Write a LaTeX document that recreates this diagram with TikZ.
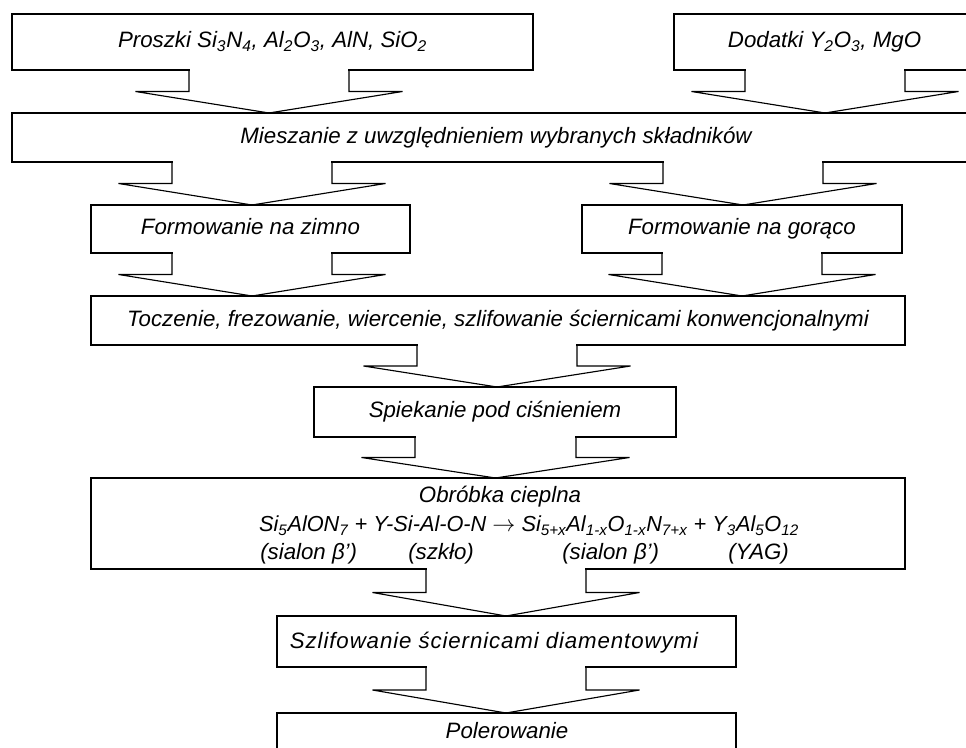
\documentclass[tikz,border=0pt]{standalone}
\usepackage{fontspec}
\setmainfont{Liberation Sans}
\usetikzlibrary{calc}
\tikzset{
  txt/.style={font=\fontsize{16.7}{20}\selectfont\itshape, text height=1.0em, text depth=0.12em},
  boxst/.style={txt, draw, fill=white, line width=0.85pt, inner sep=0pt, outer sep=0pt},
  conn/.style={draw, line width=0.85pt, line join=miter},
  lbl/.style={txt, inner sep=0pt}
}
\newcommand\mybox[6]{%
  \node[boxst, minimum width={(#4-#2)*0.75pt}, minimum height={(#5-#3)*0.75pt}]
    (#1) at ({(#2+#4)/2},{(#3+#5)/2}) {#6};}
\newcommand\stub[4]{%
  \fill[white] let \p1=(#1.south) in
    ({#3*0.75pt+0.6pt},{\y1+1pt}) rectangle ({#4*0.75pt-0.6pt},{\y1-1pt});
  \draw[conn] let \p1=(#1.south), \p2=(#2.north) in
    ({#3*0.75pt},\y1) -- ({#3*0.75pt},{(\y1+\y2)/2})
    -- ({(#3-53.5)*0.75pt},{(\y1+\y2)/2})
    -- ({(#3+#4)/2*0.75pt},\y2)
    -- ({(#4+53.5)*0.75pt},{(\y1+\y2)/2})
    -- ({#4*0.75pt},{(\y1+\y2)/2}) -- ({#4*0.75pt},\y1);}
\newcommand\sub[1]{\textsubscript{#1}}
\begin{document}
\begin{tikzpicture}[x=0.75pt,y=-0.75pt]
\useasboundingbox (0,0) rectangle (966,748);
\clip (0,0) rectangle (966,748);
\fill[white] (0,0) rectangle (966,748);
\mybox{b1}{12}{14}{533}{70}{Proszki Si\sub{3}N\sub{4}, Al\sub{2}O\sub{3}, AlN, SiO\sub{2}}
\mybox{b2}{674}{14}{975}{70}{Dodatki Y\sub{2}O\sub{3}, MgO}
\mybox{b3}{12}{113}{980}{162}{Mieszanie z uwzględnieniem wybranych składników}
\stub{b1}{b3}{189}{349}
\stub{b2}{b3}{745}{905}
\mybox{b4}{91}{205}{410}{253}{Formowanie na zimno}
\mybox{b5}{582}{205}{902}{253}{Formowanie na gorąco}
\stub{b3}{b4}{172}{332}
\stub{b3}{b5}{663}{823}
\mybox{b6}{91}{296}{905}{345}{Toczenie, frezowanie, wiercenie, szlifowanie ściernicami konwencjonalnymi}
\stub{b4}{b6}{172}{332}
\stub{b5}{b6}{662}{822}
\mybox{b7}{314}{387}{676}{437}{Spiekanie pod ciśnieniem}
\stub{b6}{b7}{417}{577}
\mybox{b8}{91}{478}{905}{569}{}
\stub{b7}{b8}{415}{576}
\node[lbl] (t8a) at (500,497) {Obróbka cieplna};
\node[lbl, font=\fontsize{16.3}{20}\selectfont\itshape] (t8b) at (529,526) {Si\sub{5}AlON\sub{7} + Y-Si-Al-O-N $\rightarrow$ Si\sub{5+x}Al\sub{1-x}O\sub{1-x}N\sub{7+x} + Y\sub{3}Al\sub{5}O\sub{12}};
\node[lbl, anchor=west] (t8c) at (260,553.5) {(sialon β’)};
\node[lbl, anchor=west] (t8d) at (408,553.5) {(szkło)};
\node[lbl, anchor=west] (t8e) at (562,553.5) {(sialon β’)};
\node[lbl, anchor=west] (t8f) at (728,553.5) {(YAG)};
\mybox{b9}{277}{616}{736}{667}{}
\stub{b8}{b9}{426}{586}
\node[lbl] (t9) at (494,643) {\addfontfeature{LetterSpace=4}Szlifowanie ściernicami diamentowymi};
\mybox{b10}{277}{713}{736}{770}{}
\stub{b9}{b10}{426}{586}
\node[lbl] (t10) at (507,733) {Polerowanie};
\end{tikzpicture}
\end{document}
